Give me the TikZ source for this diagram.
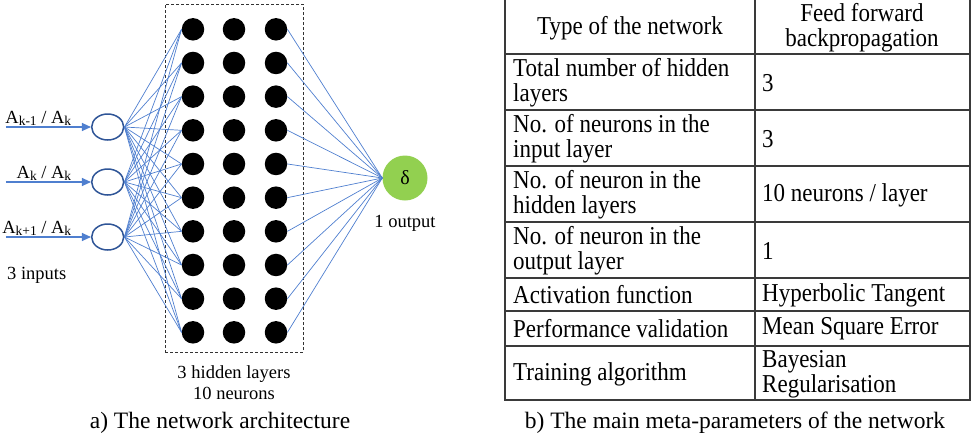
\documentclass[tikz,border=0pt]{standalone}
\usepackage{fontspec}
\setmainfont{Liberation Serif}
\usetikzlibrary{arrows.meta, positioning, shapes.geometric, calc}
\definecolor{LBlue}{HTML}{4F7FCF}
\definecolor{DBlue}{HTML}{2F5597}
\definecolor{LGreen}{HTML}{92D050}
\definecolor{Grid}{HTML}{3A3A3A}
\newcommand{\ksub}[1]{\raisebox{-1.5pt}{\fontsize{13.5}{14}\selectfont #1}}
\tikzset{
    neuron/.style={circle, fill=black, minimum size=22.5pt, inner sep=0pt},
    inneuron/.style={ellipse, draw=DBlue, line width=1.5pt, minimum width=32pt, minimum height=26pt, inner sep=0pt},
    outneuron/.style={circle, fill=LGreen, minimum size=45pt, inner sep=0pt, font=\fontsize{20}{22}\selectfont},
    hidbox/.style={draw=black!80, line width=0.9pt, dash pattern=on 3pt off 2pt, minimum width=138pt, minimum height=348pt, inner sep=0pt},
    weight/.style={LBlue, line width=0.7pt},
    feed/.style={LBlue, line width=1.1pt, -{Triangle[length=9pt, width=8pt]}},
    lbl/.style={inner sep=0pt, font=\fontsize{18.5}{21}\selectfont},
    cell/.style={inner sep=0pt, align=left, yscale=1.12, font=\fontsize{23}{22.5}\selectfont},
    captxt/.style={inner sep=0pt, font=\fontsize{23.5}{26}\selectfont},
    grid/.style={Grid, line width=1.1pt},
}

\begin{document}
\begin{tikzpicture}[x=1pt, y=1pt]

    \useasboundingbox (0,0) rectangle (972,-440);

    % a) network architecture
    \node[hidbox] (box) at (234,-178) {};
    \foreach \c/\x in {1/193, 2/234, 3/276} {
        \foreach \r in {1,...,10} {
            \node[neuron] (h\c-\r) at (\x, {-29.3-33.67*(\r-1)}) {};
        }
    }

    \foreach \i/\y in {1/127, 2/182, 3/237} {
        \node[inneuron] (in\i) at (107.7,-\y) {};
        \coordinate (src\i) at ($(in\i.west)+(-85,0)$);
        \draw[feed] (src\i) -- (in\i.west);
        \foreach \r in {1,...,10}
            \draw[weight] (in\i.east) -- (h1-\r.west);
    }
    \node[lbl, anchor=base east] (lab1) at ($(in1.west)+(-19.5,3.5)$) {A\ksub{k-1} / A\ksub{k}};
    \node[lbl, anchor=base east] (lab2) at ($(in2.west)+(-19.5,3.5)$) {A\ksub{k} / A\ksub{k}};
    \node[lbl, anchor=base east] (lab3) at ($(in3.west)+(-19.5,3.5)$) {A\ksub{k+1} / A\ksub{k}};
    \node[lbl, anchor=base west] (nin) at (7,-279) {3 inputs};

    \node[outneuron] (out) at (405,-178) {δ};
    \foreach \r in {1,...,10}
        \draw[weight] (h3-\r.east) -- (out.west);
    \node[lbl, below=14pt of out] (nout) {1 output};
    \node[lbl, align=center, below=13pt of box] (nhid) {3 hidden layers\\10 neurons};

    % b) meta-parameters
    \foreach \y in {54,110,166,222,278,311,346}
        \draw[grid] (505,-\y) -- (970,-\y);
    \draw[grid] (505,0) -- (505,-400) -- (970,-400) -- (970,0);
    \draw[grid] (755,0) -- (755,-400);

    \node[cell, align=center] (t1a) at (630,-28) {Type of the network};
    \node[cell, align=center] (t1b) at (862,-28) {Feed forward\\backpropagation};
    \node[cell, anchor=west] (t2a) at (513,-83) {Total number of hidden\\layers};
    \node[cell, anchor=west] (t2b) at (762,-83) {3};
    \node[cell, anchor=west] (t3a) at (513,-139) {No. of neurons in the\\input layer};
    \node[cell, anchor=west] (t3b) at (762,-139) {3};
    \node[cell, anchor=west] (t4a) at (513,-195) {No. of neuron in the\\hidden layers};
    \node[cell, anchor=west] (t4b) at (762,-195) {10 neurons / layer};
    \node[cell, anchor=west] (t5a) at (513,-251) {No. of neuron in the\\output layer};
    \node[cell, anchor=west] (t5b) at (762,-251) {1};
    \node[cell, anchor=west] (t6a) at (513,-295) {Activation function};
    \node[cell, anchor=west] (t6b) at (762,-295) {Hyperbolic Tangent};
    \node[cell, anchor=west] (t7a) at (513,-329) {Performance validation};
    \node[cell, anchor=west] (t7b) at (762,-329) {Mean Square Error};
    \node[cell, anchor=west] (t8a) at (513,-374) {Training algorithm};
    \node[cell, anchor=west] (t8b) at (762,-374) {Bayesian\\Regularisation};

    \node[captxt, anchor=base] (capa) at (220,-428) {a) The network architecture};
    \node[captxt, anchor=base] (capb) at (735,-428) {b) The main meta-parameters of the network};
\end{tikzpicture}
\end{document}
